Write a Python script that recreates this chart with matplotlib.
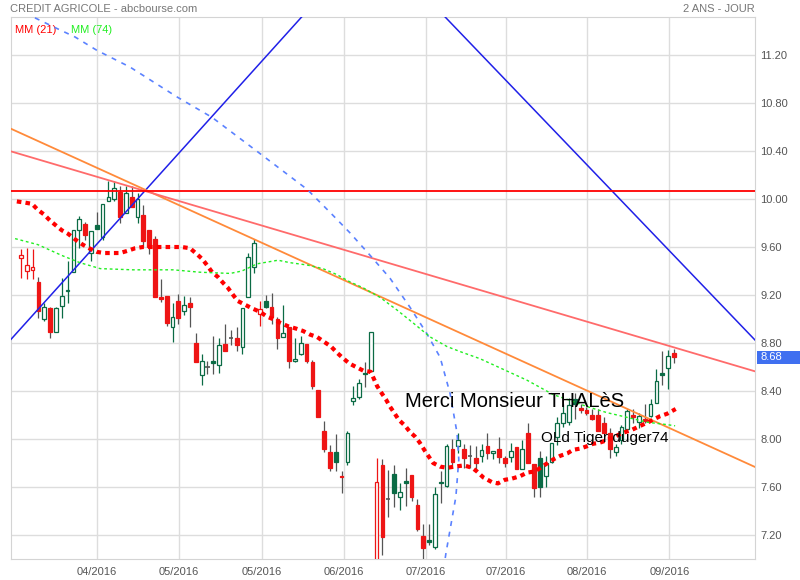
import matplotlib
matplotlib.use('Agg')
import matplotlib.pyplot as plt
import matplotlib.transforms as mtransforms
from matplotlib.patches import Rectangle
import numpy as np

# daily candles (visible window)
opens = [9.51, 9.40, 9.41, 9.31, 9.00, 9.09, 8.89, 9.11, 9.23, 9.39,
         9.74, 9.79, 9.55, 9.78, 9.68, 9.98, 10.00, 10.06, 9.88, 10.02,
         9.85, 9.87, 9.74, 9.67, 9.18, 9.19, 8.93, 9.15, 9.07, 9.13,
         8.80, 8.53, 8.60, 8.65, 8.62, 8.79, 8.84, 8.84, 8.77, 9.18,
         9.43, 9.04, 9.15, 9.10, 9.00, 8.85, 8.93, 8.65, 8.71, 8.79,
         8.64, 8.41, 8.07, 7.89, 7.89, 7.69, 7.81, 8.32, 8.35, 8.55,
         8.57, 6.85, 7.78, 7.50, 7.71, 7.52, 7.65, 7.70, 7.45, 7.19,
         7.16, 7.10, 7.64, 7.61, 7.92, 7.94, 7.92, 7.86, 7.84, 7.86,
         7.94, 7.88, 7.92, 7.84, 7.85, 7.93, 7.75, 8.05, 7.79, 7.84,
         7.69, 7.81, 8.02, 8.13, 8.14, 8.33, 8.26, 8.24, 8.20, 8.20,
         8.13, 8.05, 7.89, 7.99, 8.08, 8.20, 8.14, 8.17, 8.19, 8.30,
         8.55, 8.59, 8.72]
highs = [9.58, 9.59, 9.58, 9.35, 9.13, 9.10, 9.10, 9.34, 9.48, 9.74,
         9.86, 9.81, 9.73, 9.89, 9.96, 10.15, 10.15, 10.11, 10.11, 10.11,
         10.05, 9.95, 9.74, 9.69, 9.33, 9.19, 9.13, 9.21, 9.19, 9.18,
         8.88, 8.71, 8.65, 8.86, 8.84, 8.96, 8.91, 8.93, 9.09, 9.55,
         9.67, 9.15, 9.20, 9.22, 9.02, 9.12, 8.93, 8.84, 8.86, 8.79,
         8.66, 8.41, 8.15, 7.95, 8.04, 7.73, 8.07, 8.44, 8.50, 8.64,
         8.89, 7.84, 7.83, 7.74, 7.78, 7.63, 7.76, 7.70, 7.50, 7.29,
         7.29, 7.60, 7.73, 7.96, 8.00, 8.05, 7.96, 7.95, 7.94, 7.96,
         8.05, 7.90, 8.02, 7.86, 7.97, 7.93, 7.99, 8.13, 7.79, 7.90,
         7.86, 7.97, 8.18, 8.29, 8.34, 8.38, 8.29, 8.27, 8.25, 8.25,
         8.18, 8.09, 7.96, 8.12, 8.25, 8.25, 8.22, 8.29, 8.33, 8.58,
         8.73, 8.74, 8.75]
lows = [9.34, 9.33, 9.33, 9.01, 8.98, 8.84, 8.89, 9.01, 9.13, 9.39,
        9.59, 9.66, 9.48, 9.75, 9.66, 9.98, 9.98, 9.80, 9.88, 9.93,
        9.80, 9.60, 9.54, 9.18, 9.14, 8.94, 8.81, 8.96, 9.03, 8.93,
        8.64, 8.45, 8.54, 8.54, 8.55, 8.73, 8.78, 8.73, 8.71, 9.18,
        9.38, 8.94, 9.09, 8.96, 8.75, 8.85, 8.59, 8.64, 8.70, 8.63,
        8.42, 8.18, 7.89, 7.73, 7.73, 7.55, 7.78, 8.28, 8.33, 8.43,
        8.57, 6.80, 7.03, 7.35, 7.43, 7.41, 7.44, 7.48, 7.23, 7.00,
        7.12, 7.08, 7.47, 7.60, 7.76, 7.88, 7.76, 7.76, 7.74, 7.81,
        7.83, 7.83, 7.80, 7.77, 7.81, 7.75, 7.75, 7.80, 7.52, 7.52,
        7.60, 7.80, 7.95, 8.10, 8.12, 8.17, 8.22, 8.20, 8.16, 8.07,
        8.05, 7.84, 7.86, 7.96, 8.08, 8.13, 8.09, 8.13, 8.18, 8.30,
        8.45, 8.42, 8.63]
closes = [9.53, 9.45, 9.43, 9.07, 9.10, 8.89, 9.09, 9.19, 9.24, 9.74,
          9.83, 9.70, 9.73, 9.75, 9.96, 10.02, 10.09, 9.85, 10.05, 9.93,
          10.00, 9.65, 9.60, 9.18, 9.17, 8.97, 9.02, 9.01, 9.12, 9.10,
          8.64, 8.65, 8.60, 8.63, 8.78, 8.73, 8.84, 8.78, 9.09, 9.52,
          9.63, 9.08, 9.10, 9.02, 8.84, 8.88, 8.65, 8.67, 8.80, 8.65,
          8.44, 8.18, 7.92, 7.76, 7.81, 7.68, 8.05, 8.34, 8.47, 8.54,
          8.89, 7.64, 7.18, 7.50, 7.55, 7.56, 7.63, 7.52, 7.25, 7.09,
          7.14, 7.54, 7.63, 7.94, 7.81, 7.99, 7.84, 7.86, 7.80, 7.91,
          7.88, 7.90, 7.85, 7.80, 7.90, 7.75, 7.92, 7.80, 7.59, 7.60,
          7.80, 7.97, 8.13, 8.22, 8.28, 8.29, 8.24, 8.22, 8.17, 8.07,
          8.05, 7.92, 7.93, 8.10, 8.23, 8.18, 8.19, 8.15, 8.29, 8.48,
          8.53, 8.69, 8.68]
prev_close_start = 9.60

# moving averages (candle index, value)
mm21_idx = [-0.7, 0.7, 1.9, 2.9, 4.0, 5.0, 6.0, 7.0, 8.1, 9.4, 10.6, 11.7, 13.0, 14.2,
            17.0, 18.4, 19.6, 20.9, 25.0, 27.6, 29.0, 30.2, 31.1, 31.9, 32.8, 33.8,
            34.7, 35.5, 36.4, 37.2, 38.4, 39.6, 41.0, 42.2, 43.2, 44.4, 45.8, 47.2,
            48.4, 49.6, 50.8, 52.0, 53.2, 54.2, 55.1, 56.3, 57.5, 58.7, 60.0, 61.1,
            61.9, 62.6, 63.3, 64.0, 64.8, 65.9, 66.7, 67.6, 68.4, 69.3, 70.7, 71.9,
            73.1, 74.4, 76.0, 77.4, 78.2, 79.3, 80.8, 81.8, 83.0, 84.2, 85.6, 86.8,
            88.2, 89.4, 91.3, 92.5, 93.7, 94.7, 95.9, 97.1, 98.1, 99.3, 100.5, 101.9,
            103.1, 104.5, 105.8, 108.0, 109.6, 110.8, 112.3]
mm21_val = [9.98, 9.97, 9.96, 9.91, 9.87, 9.82, 9.78, 9.74, 9.71, 9.66, 9.62, 9.59, 9.56, 9.55,
            9.55, 9.57, 9.59, 9.60, 9.60, 9.60, 9.59, 9.54, 9.50, 9.45, 9.39, 9.35,
            9.30, 9.26, 9.20, 9.15, 9.12, 9.09, 9.06, 9.02, 9.00, 8.97, 8.94, 8.92,
            8.90, 8.87, 8.85, 8.81, 8.77, 8.72, 8.68, 8.63, 8.60, 8.57, 8.56, 8.44,
            8.38, 8.33, 8.27, 8.22, 8.16, 8.11, 8.06, 8.02, 7.97, 7.90, 7.80, 7.77,
            7.76, 7.77, 7.78, 7.76, 7.73, 7.68, 7.64, 7.63, 7.66, 7.67, 7.69, 7.72,
            7.73, 7.77, 7.83, 7.86, 7.88, 7.91, 7.92, 7.94, 7.96, 7.97, 7.99, 8.02,
            8.05, 8.07, 8.10, 8.15, 8.19, 8.21, 8.25]
mm74_idx = [-1.0, 2.9, 7.0, 10.1, 13.6, 19.2, 26.1, 30.7, 35.9, 37.9, 40.5, 44.1, 46.1,
            49.1, 51.8, 54.2, 56.4, 58.7, 61.6, 64.5, 67.2, 70.2, 73.1, 75.8, 78.7,
            86.8, 91.3, 93.7, 97.1, 100.5, 104.0, 107.4, 110.8, 112.2]
mm74_val = [9.67, 9.62, 9.53, 9.47, 9.42, 9.41, 9.41, 9.39, 9.38, 9.40, 9.46, 9.49, 9.47,
            9.45, 9.42, 9.37, 9.31, 9.26, 9.18, 9.075, 8.97, 8.85, 8.77, 8.72, 8.67,
            8.49, 8.37, 8.33, 8.27, 8.22, 8.18, 8.14, 8.12, 8.11]

# drawings (candle index, price)
blue_up = ([-1.9, 48.2], [8.82, 11.52])
blue_down = ([72.7, 125.9], [11.52, 8.825])
orange_line = ([-1.9, 125.9], [10.59, 7.767])
pink_line = ([-1.9, 125.9], [10.40, 8.564])
resistance = 10.07
arc_idx = [2.4, 5.8, 9.3, 13.0, 18.7, 26.8, 32.8, 40.7, 49.1, 53.0, 56.4, 59.9,
           63.3, 66.7, 69.6, 71.9, 73.6, 74.8, 75.1, 74.6, 72.9, 72.6]
arc_val = [11.51, 11.43, 11.35, 11.24, 11.10, 10.85, 10.68, 10.39, 10.08, 9.89, 9.72, 9.53,
           9.34, 9.10, 8.88, 8.68, 8.38, 8.05, 7.83, 7.52, 7.05, 6.95]

xtick_labels = ['04/2016', '05/2016', '05/2016', '06/2016', '07/2016', '07/2016', '08/2016', '09/2016']
xtick_pos = [13.0, 27.1, 41.3, 55.4, 69.5, 83.2, 97.1, 111.2]
ytick_vals = [7.2, 7.6, 8.0, 8.4, 8.8, 9.2, 9.6, 10.0, 10.4, 10.8, 11.2]

plt.rcParams['font.family'] = ['Liberation Sans', 'DejaVu Sans']

GREEN = '#0b6b45'
RED = '#ee1515'
GRAY = '#555555'

fig = plt.figure(figsize=(8, 5.8), dpi=100)
ax = fig.add_axes([11/800, 21/580, 744/800, 542/580])
ax.set_xlim(-1.7, 125.9)
ax.set_ylim(7.0, 11.517)

# candles
prev = [prev_close_start] + closes[:-1]
for i in range(len(closes)):
    o, h, l, c = opens[i], highs[i], lows[i], closes[i]
    col = GREEN if c >= prev[i] else RED
    if o == c:
        ax.vlines(i, l, h, color=GRAY, lw=0.9, zorder=3)
        ax.hlines(c, i - 0.35, i + 0.35, color=GRAY, lw=1.2, zorder=3)
        continue
    filled = c < o
    ax.vlines(i, l, h, color=(GRAY if filled else col), lw=0.9, zorder=3)
    ax.add_patch(Rectangle((i - 0.32, min(o, c)), 0.64, abs(c - o),
                           facecolor=(col if filled else 'white'), edgecolor=col,
                           lw=0.9, zorder=3.5))

# moving averages
ax.plot(mm21_idx, mm21_val, color='#ff0000', lw=3.0, dashes=(1.1, 1.0), zorder=5)
ax.plot(mm74_idx, mm74_val, color='#22ee22', lw=1.0, dashes=(2, 2), zorder=5)

# trend lines
ax.plot(*blue_up, color='#2020e8', lw=1.1, zorder=4)
ax.plot(*blue_down, color='#2020e8', lw=1.1, zorder=4)
ax.plot(*orange_line, color='#ff8a3a', lw=1.3, zorder=4)
ax.plot(*pink_line, color='#ff6b6b', lw=1.3, zorder=4)
ax.axhline(resistance, color='#ff0000', lw=1.3, zorder=4)
ax.plot(arc_idx, arc_val, color='#5b82ff', lw=1.2, dashes=(3, 3.5), zorder=4)

ax.text(65.9, 8.267, 'Merci Monsieur THALèS', fontsize=14.5, color='black', zorder=6)
ax.text(89.2, 7.975, 'OLd Tiger duger74', fontsize=11, color='black', zorder=6)

# axes styling
ax.grid(True, color='#dddddd', lw=1.0)
ax.set_axisbelow(True)
for s in ax.spines.values():
    s.set_color('#d4d4d4')
ax.yaxis.tick_right()
ax.set_yticks(ytick_vals)
ax.set_yticklabels(['%.2f' % v for v in ytick_vals])
ax.set_xticks(xtick_pos)
ax.set_xticklabels(xtick_labels)
ax.tick_params(axis='y', length=0, pad=3.6, labelsize=8, labelcolor='#555555')
ax.tick_params(axis='x', length=0, pad=6, labelsize=8, labelcolor='#555555')

# last price tag
trans = mtransforms.blended_transform_factory(ax.transAxes, ax.transData)
last = closes[-1]
ax.add_patch(Rectangle((1.003, last - 0.055), 0.06, 0.11, transform=trans,
                       facecolor='#3f6ff0', edgecolor='none', clip_on=False, zorder=6))
ax.text(1.0075, last, '%.2f' % last, transform=trans, color='white', fontsize=8,
        va='center', ha='left', zorder=7, clip_on=False)

fig.text(10/800, 1 - 9/580, 'CREDIT AGRICOLE - abcbourse.com', fontsize=8, color='#777777', va='center')
fig.text(755/800, 1 - 9/580, '2 ANS - JOUR', fontsize=8, color='#777777', va='center', ha='right')
ax.text(0.006, 0.985, 'MM (21)', transform=ax.transAxes, fontsize=8, color='#ff0000', va='top')
ax.text(0.081, 0.985, 'MM (74)', transform=ax.transAxes, fontsize=8, color='#22ee22', va='top')

fig.savefig('out.png', dpi=100)
